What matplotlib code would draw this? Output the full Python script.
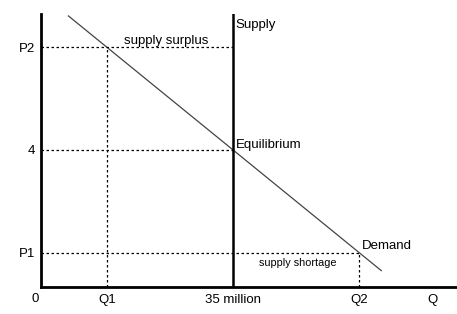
import numpy as np
import matplotlib
matplotlib.use('Agg')
import matplotlib.pyplot as plt

plt.rcParams['font.family'] = ['Liberation Sans', 'DejaVu Sans']

# price levels and quantities
price_vals = [1, 4, 7]
price_labels = ['P1', '4', 'P2']
qty_vals = [12, 35, 58]
qty_labels = ['Q1', '35 million', 'Q2']
supply_q = 35
eq_price = 4
demand_q = [5, 62]
demand_p = [4 + 3 / 23 * (35 - q) for q in demand_q]

fig = plt.figure(figsize=(4.57, 3.14), dpi=100)
ax = fig.add_axes([41 / 457, 27 / 314, 416 / 457, 273 / 314])
ax.set_xlim(0, 75.8)
ax.set_ylim(0, 7.97)

for s in ['top', 'right']:
    ax.spines[s].set_visible(False)
for s in ['left', 'bottom']:
    ax.spines[s].set_linewidth(2.0)

# demand and supply
ax.plot(demand_q, demand_p, color='#444444', lw=0.9)
ax.axvline(supply_q, color='black', lw=1.8)

# guide lines
dot = dict(color='black', lw=0.9, ls=(0, (2, 2)))
p1, p4, p2 = price_vals
q1, qe, q2 = qty_vals
ax.plot([0, qe], [p2, p2], **dot)
ax.plot([q1, q1], [0, p2], **dot)
ax.plot([0, qe], [p4, p4], **dot)
ax.plot([0, q2], [p1, p1], **dot)
ax.plot([q2, q2], [0, p1], **dot)

ax.set_yticks(price_vals)
ax.set_yticklabels(price_labels)
ax.set_xticks(qty_vals + [71.3])
ax.set_xticklabels(qty_labels + ['Q'])
ax.tick_params(length=0, labelsize=9.5, pad=4)
ax.tick_params(axis='x', pad=5)

ax.text(-1.1, -0.18, '0', ha='center', va='top', fontsize=9.5)
ax.text(supply_q + 0.5, 7.64, 'Supply', ha='left', va='center', fontsize=9.5)
ax.text(22.8, 7.19, 'supply surplus', ha='center', va='center', fontsize=9.5)
ax.text(supply_q + 0.5, 4.16, 'Equilibrium', ha='left', va='center', fontsize=9.5)
ax.text(q2 + 0.4, 1.19, 'Demand', ha='left', va='center', fontsize=9.5)
ax.text(46.8, 0.71, 'supply shortage', ha='center', va='center', fontsize=7.8)

fig.savefig('out.png', dpi=100)
